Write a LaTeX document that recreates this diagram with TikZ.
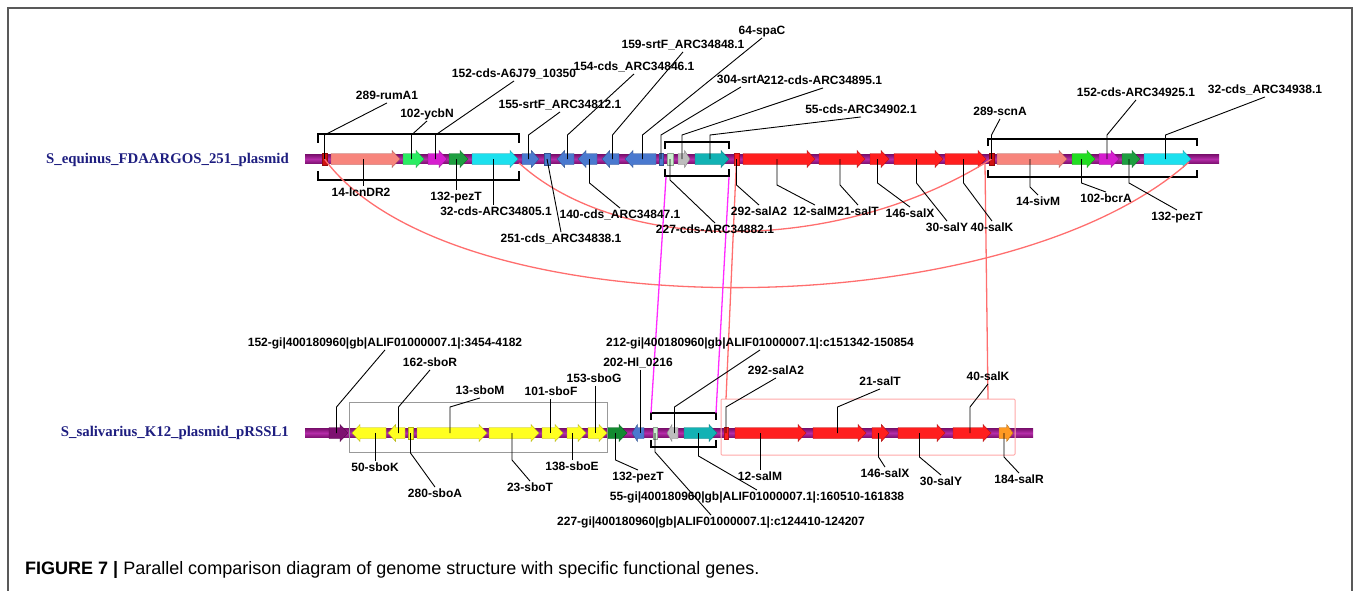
\documentclass[tikz,border=0pt]{standalone}
\usepackage{fontspec}
\setmainfont{Liberation Sans}
\newfontfamily\seriffont{Liberation Serif}
\usepackage{xcolor}
\usepackage{tikz}
\usetikzlibrary{calc}
\definecolor{Plum}{HTML}{7D1070}
\definecolor{Backbone}{HTML}{B42CA8}
\definecolor{Salmon}{HTML}{F7857C}
\definecolor{Spring}{HTML}{2AEC62}
\definecolor{Orchid}{HTML}{D61ECF}
\definecolor{Leaf}{HTML}{1E9E40}
\definecolor{Aqua}{HTML}{1CE0EE}
\definecolor{Royal}{HTML}{4A79CF}
\definecolor{Mint}{HTML}{CDEFD0}
\definecolor{Ash}{HTML}{BDBDBD}
\definecolor{Teal}{HTML}{12B2B4}
\definecolor{Scarlet}{HTML}{FF1E1E}
\definecolor{Garnet}{HTML}{D01010}
\definecolor{Lime}{HTML}{22DD22}
\definecolor{Lemon}{HTML}{FFFF20}
\definecolor{Forest}{HTML}{138A30}
\definecolor{Amber}{HTML}{FF9A22}
\definecolor{Navy}{HTML}{1E1E80}
\definecolor{LinkRed}{HTML}{FF6E6E}
\definecolor{LinkPink}{HTML}{FF2BFF}
\definecolor{BoxRose}{HTML}{FFA8A8}
\tikzset{
  panel/.style={draw=black!65, line width=1.2pt},
  backbone/.style={top color=Plum, bottom color=Plum, middle color=Backbone},
  leader/.style={draw=black, line width=0.9pt},
  bracket/.style={draw=black, line width=1.2pt},
  lbl/.style={font=\fontsize{12}{14}\selectfont\bfseries, inner sep=1pt, text height=9pt, text depth=2.5pt},
  genome/.style={font=\seriffont\bfseries\fontsize{14.8}{16}\selectfont, text=Navy, anchor=east, inner sep=0pt},
  link/.style={LinkRed, line width=1.3pt},
  pinklink/.style={LinkPink, line width=1.3pt},
  sbobox/.style={draw=black!40, line width=0.8pt},
  salbox/.style={draw=BoxRose, line width=1pt, rounded corners=1pt},
  figcap/.style={font=\fontsize{18}{20}\selectfont, inner sep=0pt, anchor=base west},
}
% gene: name, x start, x end, y, colour, direction (1 right, -1 left, 0 box)
\newcommand{\drawgene}[6]{%
  \pgfmathsetmacro{\headlen}{min(8,0.45*(#3-#2))}%
  \ifnum#6=1\relax
    \filldraw[fill=#5, draw=#5!70!black, line width=0.4pt] (#2,#4-5.5) -- (#3-\headlen,#4-5.5) -- (#3-\headlen,#4-8.5) -- (#3,#4) -- (#3-\headlen,#4+8.5) -- (#3-\headlen,#4+5.5) -- (#2,#4+5.5) -- cycle;
  \else\ifnum#6=-1\relax
    \filldraw[fill=#5, draw=#5!70!black, line width=0.4pt] (#3,#4-5.5) -- (#2+\headlen,#4-5.5) -- (#2+\headlen,#4-8.5) -- (#2,#4) -- (#2+\headlen,#4+8.5) -- (#2+\headlen,#4+5.5) -- (#3,#4+5.5) -- cycle;
  \else
    \filldraw[fill=#5, draw=#5!70!black, line width=0.4pt] (#2,#4-6) rectangle (#3,#4+6);
  \fi\fi
  \coordinate (#1) at ({(#2+#3)/2-2*(#6)},#4);
}

\begin{document}
\begin{tikzpicture}[x=1pt, y=-1pt]
  \useasboundingbox (0,0) rectangle (1354,591);
  \draw[panel] (8,591) -- (8,8) -- (1352,8) -- (1352,591);

  % Genome names
  \node[genome] (nEqu) at (289,160) {S\_equinus\_FDAARGOS\_251\_plasmid};
  \node[genome] (nSal) at (289,433) {S\_salivarius\_K12\_plasmid\_pRSSL1};

  % Backbones
  \shade[backbone] (305,154.5) rectangle (1219,163.5);
  \shade[backbone] (305,428.5) rectangle (1033,437.5);

  % Boxes on the lower track
  \draw[sbobox] (349,402) rectangle (607,452);
  \draw[salbox] (721,399) rectangle (1015,455);

  % Genes, upper track
  \drawgene{gRumA}{322}{327}{159}{Garnet}{0}
  \drawgene{gLcn}{331}{400}{159}{Salmon}{1}
  \drawgene{gYcb}{403}{424}{159}{Spring}{1}
  \drawgene{gA6J}{428}{447}{159}{Orchid}{1}
  \drawgene{gPezA}{449}{468}{159}{Leaf}{1}
  \drawgene{gC805}{472}{518}{159}{Aqua}{1}
  \drawgene{gS812}{522}{539}{159}{Royal}{1}
  \drawgene{gC838}{544}{550}{159}{Royal}{0}
  \drawgene{gC846}{557}{574}{159}{Royal}{-1}
  \drawgene{gC847}{578}{597}{159}{Royal}{-1}
  \drawgene{gS848}{602}{619}{159}{Royal}{-1}
  \drawgene{gSpaC}{625}{656}{159}{Royal}{-1}
  \drawgene{gSrtA}{659}{663}{159}{Royal}{0}
  \drawgene{gC882}{667}{673}{159}{Mint}{0}
  \drawgene{gC895}{678}{690}{159}{Ash}{1}
  \drawgene{gC902}{695}{729}{159}{Teal}{1}
  \drawgene{gSalA}{734}{739}{159}{Scarlet}{0}
  \drawgene{gSalM}{743}{815}{159}{Scarlet}{1}
  \drawgene{gSalT}{819}{865}{159}{Scarlet}{1}
  \drawgene{gSalX}{870}{889}{159}{Scarlet}{1}
  \drawgene{gSalY}{894}{943}{159}{Scarlet}{1}
  \drawgene{gSalK}{945}{986}{159}{Scarlet}{1}
  \drawgene{gScnA}{989}{994}{159}{Garnet}{0}
  \drawgene{gSivM}{997}{1067}{159}{Salmon}{1}
  \drawgene{gBcrA}{1072}{1095}{159}{Lime}{1}
  \drawgene{gC925}{1099}{1119}{159}{Orchid}{1}
  \drawgene{gPezB}{1122}{1140}{159}{Leaf}{1}
  \drawgene{gC938}{1144}{1191}{159}{Aqua}{1}

  % Genes, lower track
  \drawgene{gGi152}{329}{348}{433}{Plum}{1}
  \drawgene{gSboK}{352}{386}{433}{Lemon}{-1}
  \drawgene{gSboR}{388}{405}{433}{Lemon}{-1}
  \drawgene{gSboA}{408}{413}{433}{Lemon}{0}
  \drawgene{gSboM}{417}{487}{433}{Lemon}{1}
  \drawgene{gSboT}{489}{539}{433}{Lemon}{1}
  \drawgene{gSboF}{542}{563}{433}{Lemon}{1}
  \drawgene{gSboE}{567}{586}{433}{Lemon}{1}
  \drawgene{gSboG}{588}{607}{433}{Lemon}{1}
  \drawgene{gPezC}{608}{627}{433}{Forest}{1}
  \drawgene{gHl}{632}{644}{433}{Royal}{-1}
  \drawgene{gGi227}{653}{657}{433}{Mint}{0}
  \drawgene{gGi212}{667}{678}{433}{Ash}{-1}
  \drawgene{gGi55}{684}{717}{433}{Teal}{1}
  \drawgene{gSalA2}{724}{728}{433}{Scarlet}{0}
  \drawgene{gSalM2}{735}{806}{433}{Scarlet}{1}
  \drawgene{gSalT2}{813}{866}{433}{Scarlet}{1}
  \drawgene{gSalX2}{872}{889}{433}{Scarlet}{1}
  \drawgene{gSalY2}{898}{945}{433}{Scarlet}{1}
  \drawgene{gSalK2}{953}{991}{433}{Scarlet}{1}
  \drawgene{gSalR}{999}{1013}{433}{Amber}{1}

  % Brackets
  \draw[bracket] (318,143) |- (519,134) -- (519,143);
  \draw[bracket] (318,171) |- (519,180) -- (519,171);
  \draw[bracket] (665,149) |- (729,142) -- (729,149);
  \draw[bracket] (665,169) |- (729,176) -- (729,169);
  \draw[bracket] (988,146) |- (1197,139) -- (1197,146);
  \draw[bracket] (988,170) |- (1197,177) -- (1197,170);
  \draw[bracket] (651,420) |- (716,413) -- (716,420);
  \draw[bracket] (651,440) |- (716,447) -- (716,440);

  % Links between and within the tracks
  \coordinate (tipC805) at (519,163);
  \coordinate (tipC938) at (1189,162);
  \coordinate (topK) at (985,164);
  \coordinate (roseA) at (726,399);
  \coordinate (roseB) at (988,399);
  \coordinate (midBL) at (666,177);
  \coordinate (midBR) at (729,177);
  \coordinate (lowTL) at (651,413);
  \coordinate (lowTR) at (716,413);
  \draw[link] (gRumA) .. controls (450,330) and (1000,330) .. (tipC938);
  \draw[link] (tipC805) .. controls (620,255) and (839,255) .. (gScnA);
  \draw[link] (gSalA) -- (roseA);
  \draw[link] (topK) -- (roseB);
  \draw[pinklink] (midBL) -- (lowTL);
  \draw[pinklink] (midBR) -- (lowTR);

  % Labels, upper track
  \node[lbl] (L289r) at (387,96) {289-rumA1};
  \node[lbl] (L102y) at (427,114) {102-ycbN};
  \node[lbl] (L152a) at (514,74) {152-cds-A6J79\_10350};
  \node[lbl] (L155) at (560,105) {155-srtF\_ARC34812.1};
  \node[lbl] (L154) at (634,67) {154-cds\_ARC34846.1};
  \node[lbl] (L159) at (683,45) {159-srtF\_ARC34848.1};
  \node[lbl] (L64) at (762,31) {64-spaC};
  \node[lbl] (L304) at (741,80) {304-srtA};
  \node[lbl] (L212c) at (823,81) {212-cds-ARC34895.1};
  \node[lbl] (L55c) at (861,110) {55-cds-ARC34902.1};
  \node[lbl] (L289s) at (1000,112) {289-scnA};
  \node[lbl] (L152c) at (1136,93) {152-cds-ARC34925.1};
  \node[lbl] (L32c) at (1265,90) {32-cds\_ARC34938.1};
  \node[lbl] (L14l) at (361,193) {14-lcnDR2};
  \node[lbl] (L132a) at (456,197) {132-pezT};
  \node[lbl] (L32a) at (496,212) {32-cds-ARC34805.1};
  \node[lbl] (L251) at (561,239) {251-cds\_ARC34838.1};
  \node[lbl] (L140) at (620,215) {140-cds\_ARC34847.1};
  \node[lbl] (L227c) at (715,230) {227-cds-ARC34882.1};
  \node[lbl] (L292a) at (759,212) {292-salA2};
  \node[lbl] (L12a) at (815,212) {12-salM};
  \node[lbl] (L21a) at (858,212) {21-salT};
  \node[lbl] (L146a) at (910,214) {146-salX};
  \node[lbl] (L30a) at (947,228) {30-salY};
  \node[lbl] (L40a) at (992,228) {40-salK};
  \node[lbl] (L14s) at (1038,202) {14-sivM};
  \node[lbl] (L102b) at (1106,199) {102-bcrA};
  \node[lbl] (L132b) at (1177,217) {132-pezT};

  % Labels, lower track
  \node[lbl] (Lgi152) at (385,343) {152-gi|400180960|gb|ALIF01000007.1|:3454-4182};
  \node[lbl] (LsboR) at (430,363) {162-sboR};
  \node[lbl] (LsboM) at (480,391) {13-sboM};
  \node[lbl] (LsboF) at (551,392) {101-sboF};
  \node[lbl] (LsboG) at (594,379) {153-sboG};
  \node[lbl] (LHl) at (638,363) {202-Hl\_0216};
  \node[lbl] (Lgi212) at (760,343) {212-gi|400180960|gb|ALIF01000007.1|:c151342-150854};
  \node[lbl] (LsalA2) at (776,371) {292-salA2};
  \node[lbl] (LsalT2) at (880,382) {21-salT};
  \node[lbl] (LsalK2) at (988,377) {40-salK};
  \node[lbl] (LsboK) at (375,468) {50-sboK};
  \node[lbl] (LsboA) at (435,494) {280-sboA};
  \node[lbl] (LsboT) at (530,488) {23-sboT};
  \node[lbl] (LsboE) at (572,467) {138-sboE};
  \node[lbl] (LpezC) at (638,477) {132-pezT};
  \node[lbl] (Lgi55) at (757,497) {55-gi|400180960|gb|ALIF01000007.1|:160510-161838};
  \node[lbl] (LsalM2) at (760,477) {12-salM};
  \node[lbl] (Lgi227) at (711,522) {227-gi|400180960|gb|ALIF01000007.1|:c124410-124207};
  \node[lbl] (LsalX2) at (885,474) {146-salX};
  \node[lbl] (LsalY2) at (941,482) {30-salY};
  \node[lbl] (LsalR) at (1019,480) {184-salR};

  % Leaders, upper track
  \foreach \lab/\gen in {L289r/gRumA, L102y/gYcb, L152a/gA6J, L155/gS812, L154/gC846, L159/gS848, L64/gSpaC, L304/gSrtA, L212c/gC895, L55c/gC902, L289s/gScnA, L152c/gC925, L32c/gC938}
    \draw[leader] (\lab.south) -- (\gen |- 0,135) -- (\gen);
  \foreach \lab/\gen in {L14l/gLcn, L132a/gPezA, L32a/gC805}
    \draw[leader] (\gen) -- (\gen |- \lab.north);
  \draw[leader] (gC838) -- (L251.north);
  \foreach \lab/\gen/\yb in {L140/gC847/183, L227c/gC882/180, L292a/gSalA/185, L12a/gSalM/185, L21a/gSalT/185, L146a/gSalX/183, L30a/gSalY/183, L40a/gSalK/183, L14s/gSivM/187, L102b/gBcrA/183, L132b/gPezB/183}
    \draw[leader] (\gen) -- (\gen |- 0,\yb) -- (\lab.north);

  % Leaders, lower track
  \foreach \lab/\gen in {Lgi152/gGi152, LsboR/gSboR, LsboM/gSboM, Lgi212/gGi212, LsalA2/gSalA2, LsalT2/gSalT2, LsalK2/gSalK2}
    \draw[leader] (\lab.south) -- (\gen |- 0,407) -- (\gen);
  \foreach \lab/\gen in {LsboF/gSboF, LsboG/gSboG, LHl/gHl}
    \draw[leader] (\gen |- \lab.south) -- (\gen);
  \foreach \lab/\gen in {LsboK/gSboK, LsboE/gSboE, LsalM2/gSalM2}
    \draw[leader] (\lab.north |- \gen) -- (\lab.north);
  \foreach \lab/\gen/\yb in {LsboA/gSboA/453, LsboT/gSboT/460, LpezC/gPezC/460, Lgi55/gGi55/456, Lgi227/gGi227/452, LsalX2/gSalX2/457, LsalY2/gSalY2/457, LsalR/gSalR/457}
    \draw[leader] (\gen) -- (\gen |- 0,\yb) -- (\lab.north);

  % Caption
  \node[figcap] (cap) at (25,574) {\textbf{FIGURE 7 |} Parallel comparison diagram of genome structure with specific functional genes.};
\end{tikzpicture}
\end{document}
